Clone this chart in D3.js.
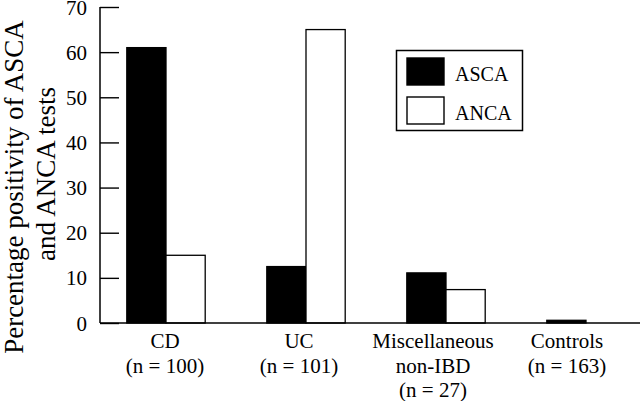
<!DOCTYPE html>
<html>
<head>
<meta charset="utf-8">
<script src="https://cdn.jsdelivr.net/npm/d3@7"></script>
<style>
  html, body { margin: 0; padding: 0; background: #fff; }
  svg { display: block; font-family: "Liberation Serif", "Times New Roman", serif; }
</style>
</head>
<body>
<svg id="chart" width="640" height="401"></svg>
<script>
const categories = ["CD", "UC", "Miscellaneous", "Controls"];
const categoryLabels = [
  ["CD", "(n = 100)"],
  ["UC", "(n = 101)"],
  ["Miscellaneous", "non-IBD", "(n = 27)"],
  ["Controls", "(n = 163)"]
];
const seriesNames = ["ASCA", "ANCA"];
const ascaValues = [61, 12.5, 11.1, 0.6];
const ancaValues = [15, 65, 7.4, 0];
const yTicks = [0, 10, 20, 30, 40, 50, 60, 70];
const yTitle = ["Percentage positivity of ASCA", "and ANCA tests"];

const seriesValues = { ASCA: ascaValues, ANCA: ancaValues };
const fills = { ASCA: "#000", ANCA: "#fff" };

const svg = d3.select("#chart");
svg.append("rect").attr("width", 640).attr("height", 401).attr("fill", "#fff");

const y = d3.scaleLinear().domain([0, 70]).range([323, 7]);
const x0 = d3.scaleBand().domain(categories).range([96, 656]).paddingInner(0.44).paddingOuter(0.22);
const x1 = d3.scaleBand().domain(seriesNames).range([0, x0.bandwidth()]);
const xLabel = d3.scalePoint().domain(categories).range([165, 567]);

// bars
const groups = svg.append("g").selectAll("g")
  .data(categories).join("g")
  .attr("transform", d => `translate(${x0(d)},0)`);
groups.selectAll("rect")
  .data((c, i) => seriesNames.map(s => ({ s, v: seriesValues[s][i] })).filter(d => d.v > 0))
  .join("rect")
  .attr("x", d => x1(d.s))
  .attr("y", d => y(d.v))
  .attr("width", x1.bandwidth())
  .attr("height", d => y(0) - y(d.v))
  .attr("fill", d => fills[d.s])
  .attr("stroke", "#000")
  .attr("stroke-width", 1.3);

// y axis
const yAxis = d3.axisRight(y).tickValues(yTicks).tickSize(19).tickFormat("");
const ya = svg.append("g").attr("transform", "translate(100,0)").call(yAxis);
ya.select(".domain").remove();
ya.selectAll(".tick line").attr("stroke", "#000").attr("stroke-width", 1.4);
svg.append("line").attr("x1", 100).attr("x2", 100).attr("y1", y(70)).attr("y2", y(0))
  .attr("stroke", "#000").attr("stroke-width", 1.5);
svg.append("g").selectAll("text").data(yTicks).join("text")
  .attr("x", 87).attr("y", d => y(d) + 7.5)
  .attr("text-anchor", "end").attr("font-size", 21).attr("fill", "#000")
  .text(d => d);

// x axis baseline
svg.append("line").attr("x1", 100).attr("x2", 640).attr("y1", y(0)).attr("y2", y(0))
  .attr("stroke", "#000").attr("stroke-width", 1.5);

// x labels
const xl = svg.append("g").selectAll("text").data(categories).join("text")
  .attr("font-size", 21).attr("text-anchor", "middle").attr("fill", "#000");
xl.each(function(c, i) {
  d3.select(this).selectAll("tspan").data(categoryLabels[i]).join("tspan")
    .attr("x", xLabel(c)).attr("y", (d, j) => 348 + j * 24.5).text(d => d);
});

// y title
svg.append("text").attr("transform", "translate(23,187) rotate(-90)")
  .attr("text-anchor", "middle").attr("font-size", 27).attr("fill", "#000").text(yTitle[0]);
svg.append("text").attr("transform", "translate(55,174) rotate(-90)")
  .attr("text-anchor", "middle").attr("font-size", 27).attr("fill", "#000").text(yTitle[1]);

// legend
const legend = svg.append("g");
legend.append("rect").attr("x", 396.5).attr("y", 50.5).attr("width", 126).attr("height", 80)
  .attr("fill", "#fff").attr("stroke", "#000").attr("stroke-width", 1.5);
const li = legend.selectAll("g.item").data(seriesNames).join("g").attr("class", "item")
  .attr("transform", (d, i) => `translate(0,${i * 39})`);
li.append("rect").attr("x", 407).attr("y", 58).attr("width", 37).attr("height", 27)
  .attr("fill", d => fills[d]).attr("stroke", "#000").attr("stroke-width", 1.4);
li.append("text").attr("x", 455).attr("y", 80.5).attr("font-size", 20).attr("fill", "#000").text(d => d);
</script>
</body>
</html>
